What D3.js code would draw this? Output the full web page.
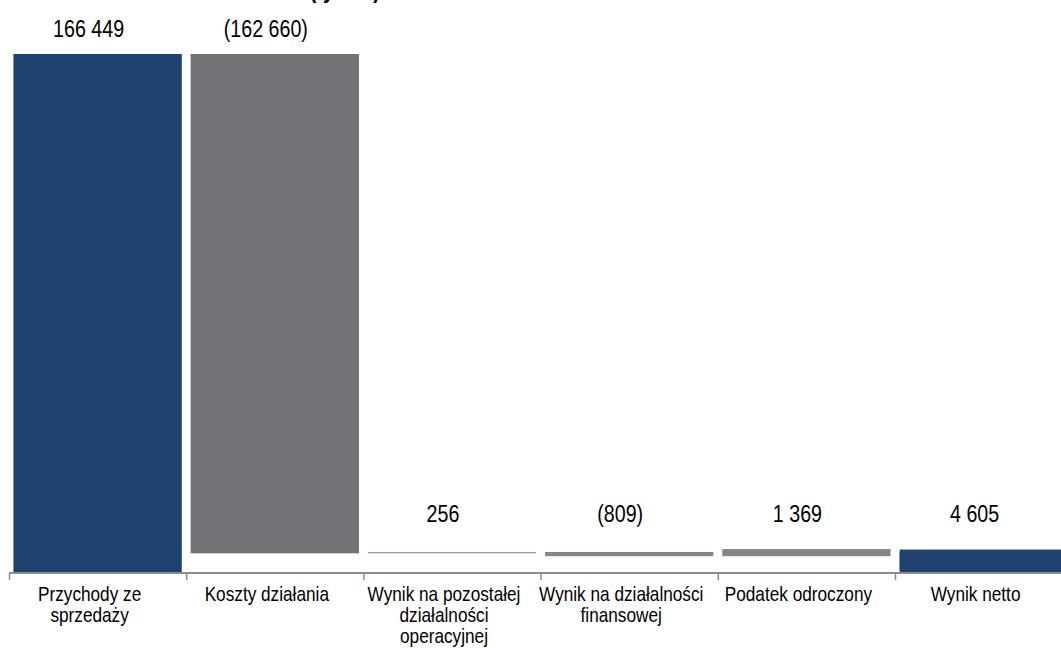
<!DOCTYPE html>
<html>
<head>
<meta charset="utf-8">
<script src="https://cdn.jsdelivr.net/npm/d3@7"></script>
<style>
  html, body { margin: 0; padding: 0; background: #ffffff; overflow: hidden; }
  svg { display: block; }
</style>
</head>
<body>
<svg id="chart" width="1061" height="648"></svg>
<script>
// ---- data ----
const categoryLines = [
  ["Przychody ze", "sprzedaży"],
  ["Koszty działania"],
  ["Wynik na pozostałej", "działalności", "operacyjnej"],
  ["Wynik na działalności", "finansowej"],
  ["Podatek odroczony"],
  ["Wynik netto"]
];
const categories = categoryLines.map(l => l.join(" "));
const values = [166449, -162660, 256, -809, 1369, 4605];
const barTypes = ["total", "delta", "delta", "delta", "delta", "total"];
const titleText = "(tys. zł)";

// ---- styles ----
const barColors = ["#1f416d", "#737277", "#9b9b9b", "#878787", "#878787", "#1f416d"];
const axisColor = "#8c8c8c";

// font detection: prefer a narrow Arial-like face
function hasFont(name) {
  const c = document.createElement("canvas").getContext("2d");
  const s = "Przychody ze sprzedaży 166 449";
  c.font = "20px monospace";
  const a = c.measureText(s).width;
  c.font = `20px '${name}', monospace`;
  const b = c.measureText(s).width;
  return Math.abs(a - b) > 0.5;
}
let fontFamily = "'Liberation Sans', Arial, sans-serif";
let sx = 0.82;
if (hasFont("Liberation Sans Narrow")) { fontFamily = "'Liberation Sans Narrow', sans-serif"; sx = 1; }
else if (hasFont("Arial Narrow")) { fontFamily = "'Arial Narrow', sans-serif"; sx = 1; }

// ---- waterfall computation ----
let cum = 0;
const bars = values.map((v, i) => {
  let y0, y1;
  if (barTypes[i] === "total") { y0 = 0; y1 = v; cum = v; }
  else { y0 = cum; y1 = cum + v; cum = y1; }
  return { i, cat: categories[i], lines: categoryLines[i], value: v, lo: Math.min(y0, y1), hi: Math.max(y0, y1) };
});

const fmtLocale = d3.formatLocale({ decimal: ",", thousands: "\u00a0", grouping: [3], currency: ["", " zł"] });
const fmtNum = fmtLocale.format(",d");
const fmt = v => v < 0 ? "(" + fmtNum(-v) + ")" : fmtNum(v);

// ---- scales ----
const svg = d3.select("#chart");
const axisY = 573;
const x = d3.scaleBand().domain(categories).range([9, 9 + 6 * 177.2]).paddingInner(0.05).paddingOuter(0.025);
const y = d3.scaleLinear().domain([0, 5000, 166449]).range([axisY, 547, 54]);
const labelFloor = y(5000) - 25;

// title (mostly above the visible area)
svg.append("text")
  .attr("transform", `translate(380,-2) scale(${sx},1)`)
  .attr("text-anchor", "end")
  .attr("font-family", fontFamily)
  .attr("font-weight", "bold")
  .attr("font-size", 25)
  .attr("fill", "#000")
  .text(titleText);

// bars
svg.append("g").selectAll("rect").data(bars).join("rect")
  .attr("x", d => x(d.cat))
  .attr("width", x.bandwidth())
  .attr("y", d => y(d.hi))
  .attr("height", d => Math.max(1, y(d.lo) - y(d.hi)))
  .attr("rx", d => barTypes[d.i] === "total" && d.i > 0 ? 3 : 0)
  .attr("fill", d => barColors[d.i]);

// light top edge on the final bar
const last = bars[bars.length - 1];
svg.append("line")
  .attr("x1", x(last.cat) + 2).attr("x2", x(last.cat) + x.bandwidth())
  .attr("y1", y(last.hi) + 0.5).attr("y2", y(last.hi) + 0.5)
  .attr("stroke", "#a9b0ba").attr("stroke-width", 1);

// value labels
svg.append("g").selectAll("text").data(bars).join("text")
  .attr("transform", d => `translate(${x(d.cat) + x.bandwidth() / 2 - 9},${Math.min(y(d.hi) - 17, labelFloor)}) scale(${sx},1)`)
  .attr("text-anchor", "middle")
  .attr("font-family", fontFamily)
  .attr("font-size", 24)
  .attr("fill", "#000")
  .text(d => fmt(d.value));

// x axis: domain line + boundary ticks
const axisG = svg.append("g").attr("transform", `translate(0,${axisY})`);
axisG.call(d3.axisBottom(x).tickSize(0).tickFormat(""));
axisG.select(".domain").attr("stroke", axisColor).attr("stroke-width", 2)
  .attr("d", `M${x.range()[0]},0H${x.range()[1]}`);
const boundaries = categories.map(c => x(c) - (x(categories[0]) - x.range()[0]));
axisG.selectAll(".btick").data(boundaries).join("line")
  .attr("class", "btick")
  .attr("x1", d => d + 0.5).attr("x2", d => d + 0.5)
  .attr("y1", 0).attr("y2", 7)
  .attr("stroke", axisColor).attr("stroke-width", 1.5);

// category labels
const lab = svg.append("g").selectAll("text").data(bars).join("text")
  .attr("transform", d => `translate(${x(d.cat) + x.bandwidth() / 2 - 8},601) scale(${sx},1)`)
  .attr("text-anchor", "middle")
  .attr("font-family", fontFamily)
  .attr("font-size", 21)
  .attr("fill", "#000");
lab.selectAll("tspan").data(d => d.lines).join("tspan")
  .attr("x", 0)
  .attr("dy", (d, i) => i === 0 ? 0 : 21)
  .text(d => d);
</script>
</body>
</html>
